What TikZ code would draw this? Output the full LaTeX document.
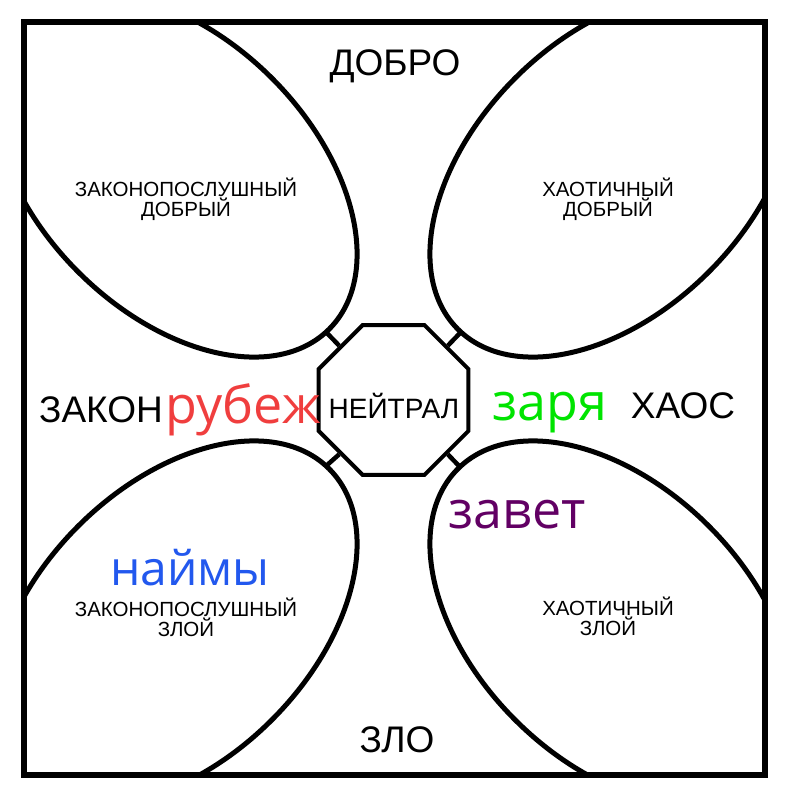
\documentclass[tikz,border=0pt]{standalone}
\usepackage{fontspec}
\setmainfont{Liberation Sans}
\newfontfamily\colfont{Open Sans}
\usetikzlibrary{shapes.geometric}
\definecolor{cred}{RGB}{240,62,62}
\definecolor{cgreen}{RGB}{0,228,0}
\definecolor{cblue}{RGB}{34,88,238}
\definecolor{cpurple}{RGB}{98,0,100}
\begin{document}
\begin{tikzpicture}[x=1pt,y=-1pt,
  leaf/.style={line width=5pt},
  frame/.style={line width=6pt},
  octo/.style={draw, regular polygon, regular polygon sides=8, minimum size=162pt, inner sep=0pt, line width=4pt},
  link/.style={line width=4.5pt},
  big/.style={font=\fontsize{37}{40}\selectfont, anchor=base, inner sep=0pt},
  small/.style={font=\fontsize{20.5}{19.5}\selectfont, anchor=base, inner sep=0pt, align=center},
  col/.style={font=\colfont\fontsize{52}{56}\selectfont, anchor=base, inner sep=0pt},
]
\useasboundingbox (0,0) rectangle (788,800);
\fill[white] (0,0) rectangle (788,800);
\begin{scope}
\clip (23.5,22) rectangle (764.5,774.5);
\draw[leaf, rotate around={-45:(175,175)}] (175,175) ellipse [x radius=218, y radius=137];
\draw[leaf, rotate around={45:(612,175)}] (612,175) ellipse [x radius=218, y radius=137];
\draw[leaf, rotate around={45:(175,623)}] (175,623) ellipse [x radius=218, y radius=137];
\draw[leaf, rotate around={-45:(612,623)}] (612,623) ellipse [x radius=218, y radius=137];
\end{scope}
\draw[frame] (23.5,22) rectangle (764.5,774.5);
\node[octo] (neut) at (393.5,400) {};
\coordinate (tlp) at (326,332);
\coordinate (trp) at (461,332);
\coordinate (blp) at (326,466);
\coordinate (brp) at (460,467);
\draw[link] (neut.135) -- (tlp);
\draw[link] (neut.45) -- (trp);
\draw[link] (neut.225) -- (blp);
\draw[link] (neut.-45) -- (brp);
\node[big] (dobro) at (395,75) {ДОБРО};
\node[big] (zlo) at (397,752) {ЗЛО};
\node[big] (zakon) at (101,422) {ЗАКОН};
\node[big] (haos) at (683,418) {ХАОС};
\node[font=\fontsize{28}{30}\selectfont, anchor=base, inner sep=0pt] (neutt) at (394,418) {НЕЙТРАЛ};
\node[small] (lg) at (186,216) {ЗАКОНОПОСЛУШНЫЙ\\ДОБРЫЙ};
\node[small] (cg) at (608,216) {ХАОТИЧНЫЙ\\ДОБРЫЙ};
\node[small] (le) at (186,636) {ЗАКОНОПОСЛУШНЫЙ\\ЗЛОЙ};
\node[small] (ce) at (608,635) {ХАОТИЧНЫЙ\\ЗЛОЙ};
\node[col, text=cred] (rub) at (243,423) {рубеж};
\node[col, text=cgreen] (zar) at (550,420) {заря};
\node[col, text=cpurple] (zav) at (517,528) {завет};
\node[col, text=cblue, font=\colfont\fontsize{48}{52}\selectfont] (naim) at (190,585) {наймы};
\end{tikzpicture}
\end{document}
